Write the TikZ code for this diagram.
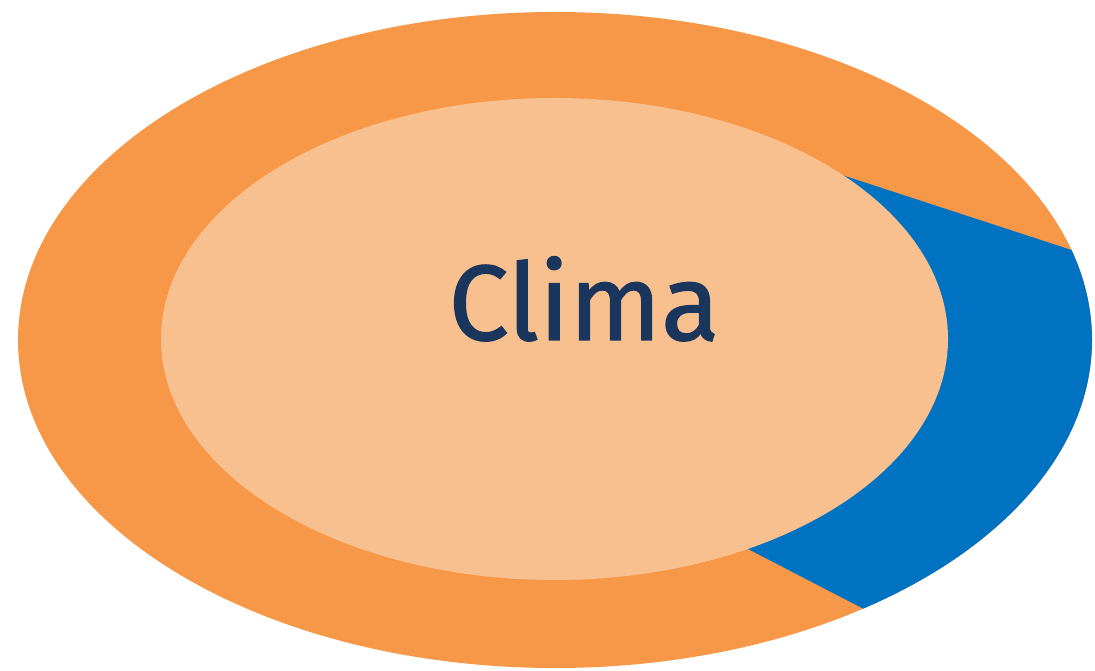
\documentclass[tikz,border=0pt]{standalone}
\usepackage{fontspec}
\newfontfamily\climafont[FakeBold=1.2]{Fira Sans}
\usepackage{tikz}
\usetikzlibrary{positioning}
\definecolor{outercolor}{RGB}{247,151,72}
\definecolor{innercolor}{RGB}{249,192,143}
\definecolor{wedgecolor}{RGB}{0,114,194}
\definecolor{textcolor}{RGB}{27,54,93}

\begin{document}
\begin{tikzpicture}[x=0.02cm, y=-0.02cm]
    \useasboundingbox (0,0) rectangle (1095,671);

    % Ellipse extérieure
    \fill[outercolor] (555,340) ellipse [x radius=537, y radius=328];

    % Secteur bleu
    \begin{scope}
        \clip (555,340) ellipse [x radius=537, y radius=328];
        \fill[wedgecolor] (842,175) -- (1200,292) -- (1200,783) -- (748,549) -- cycle;
    \end{scope}

    % Ellipse intérieure
    \fill[innercolor] (554.5,339) ellipse [x radius=393.5, y radius=241];

    % Titre
    \node[font=\climafont\fontsize{61}{61}\selectfont, text=textcolor, anchor=base, inner sep=0pt] (clima) at (584,340) {Clima};
\end{tikzpicture}
\end{document}
